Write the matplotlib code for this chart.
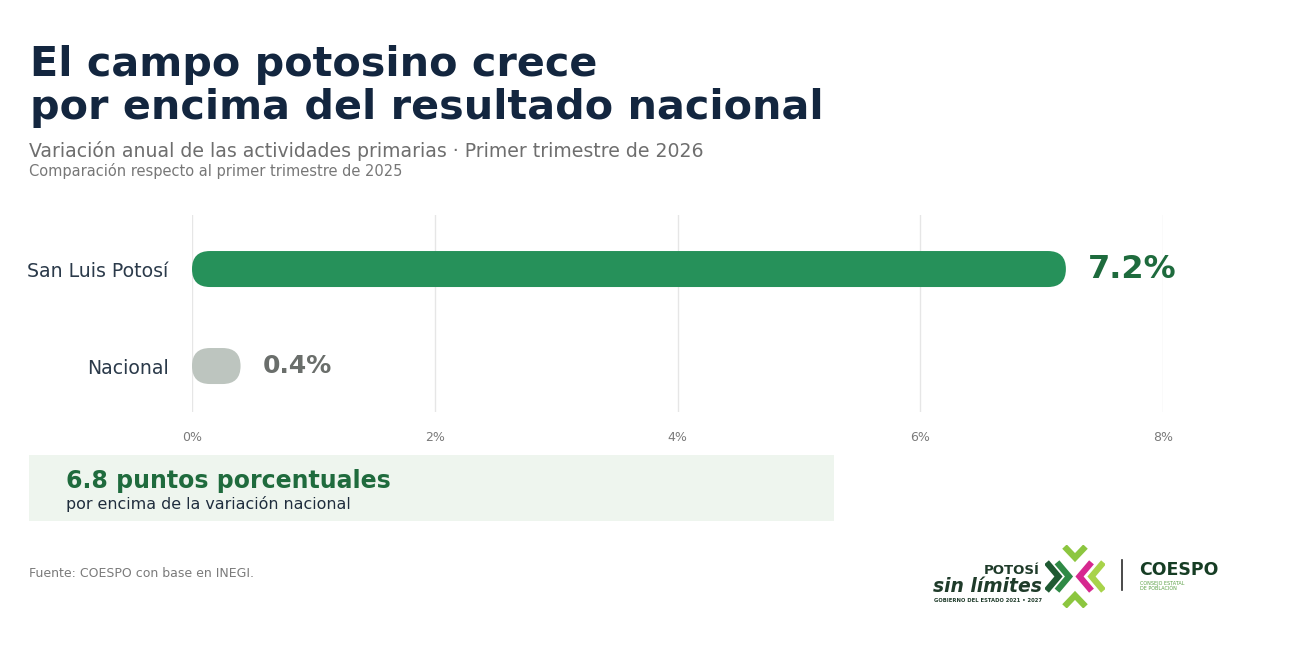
import numpy as np
import matplotlib
matplotlib.use("Agg")
from matplotlib import pyplot as plt
from matplotlib.patches import FancyBboxPatch, Rectangle

# datos
regiones = ["San Luis Potosí", "Nacional"]
variacion = [7.2, 0.4]
colores = ["#26915a", "#bdc5bf"]
colores_txt = ["#1e6b3d", "#6a6e6b"]
tamanos_txt = [23, 18]
x_ticks = [0, 2, 4, 6, 8]
diferencia = variacion[0] - variacion[1]

W, H = 1300, 645
plt.rcParams['font.family'] = ['DejaVu Sans']

fig = plt.figure(figsize=(W / 100, H / 100), dpi=100)
fig.patch.set_facecolor("white")


def px(x, y):
    # pixeles -> fraccion de figura
    return x / W, 1 - y / H


# ejes del grafico de barras
ax_l, ax_r, ax_t, ax_b = 192, 1163, 215, 412
ax = fig.add_axes([ax_l / W, 1 - ax_b / H, (ax_r - ax_l) / W, (ax_b - ax_t) / H])
ymin, ymax = -0.557, 1.474
ax.set_xlim(0, 8)
ax.set_ylim(ymax, ymin)

# relacion de aspecto para las esquinas redondeadas
px_x = (ax_r - ax_l) / 8.0
px_y = (ax_b - ax_t) / (ymax - ymin)
aspecto = px_x / px_y
alto = 36 / px_y
radio = (alto / aspecto) / 2

y = np.arange(len(regiones))
for i, (reg, val) in enumerate(zip(regiones, variacion)):
    barra = FancyBboxPatch((0, y[i] - alto / 2), val, alto,
                           boxstyle=f"round,pad=0,rounding_size={radio}",
                           mutation_aspect=aspecto,
                           facecolor=colores[i], edgecolor="none", zorder=3)
    ax.add_patch(barra)
    ax.annotate(f"{val:.1f}%", xy=(val, y[i]), xytext=(16, 0),
                textcoords="offset points", ha="left", va="center",
                fontsize=tamanos_txt[i], fontweight="bold",
                color=colores_txt[i], annotation_clip=False)

ax.set_yticks(y)
ax.set_yticklabels(regiones, fontsize=13.6, color="#2b3a4a")
ax.set_xticks(x_ticks)
ax.set_xticklabels([f"{t}%" for t in x_ticks], fontsize=9, color="#7a7a7a")
ax.tick_params(axis="y", length=0, pad=17)
ax.tick_params(axis="x", length=0, pad=14)
ax.grid(axis="x", color="#e6e6e6", linewidth=1, zorder=0)
ax.set_axisbelow(True)
for s in ax.spines.values():
    s.set_visible(False)

# titulos
navy = "#13263f"
fig.text(*px(30, 76), "El campo potosino crece", fontsize=29.8,
         fontweight="bold", color=navy, va="baseline")
fig.text(*px(30, 119), "por encima del resultado nacional", fontsize=29.8,
         fontweight="bold", color=navy, va="baseline")
fig.text(*px(29, 157), "Variación anual de las actividades primarias · Primer trimestre de 2026",
         fontsize=13.6, color="#6e6e6e", va="baseline")
fig.text(*px(29, 176), "Comparación respecto al primer trimestre de 2025",
         fontsize=10.5, color="#777777", va="baseline")

# recuadro de diferencia
x0, y0 = px(29, 521)
x1, y1 = px(834, 455)
fig.patches.append(Rectangle((x0, y0), x1 - x0, y1 - y0, transform=fig.transFigure,
                             facecolor="#eef5ee", edgecolor="none", zorder=0))
fig.text(*px(66, 488), f"{diferencia:.1f} puntos porcentuales", fontsize=17,
         fontweight="bold", color="#1f6b3d", va="baseline")
fig.text(*px(66, 509), "por encima de la variación nacional", fontsize=11.4,
         color="#1f2d3d", va="baseline")

# fuente
fig.text(*px(29, 577), "Fuente: COESPO con base en INEGI.", fontsize=9,
         color="#7a7a7a", va="baseline")

# logotipos
fig.text(*px(1040, 574), "POTOSÍ", fontsize=9.5, fontweight="bold",
         color="#1f3b2a", ha="right", va="baseline")
fig.text(*px(1042, 592), "sin límites", fontsize=13.5, fontweight="bold",
         fontstyle="italic", color="#1f3b2a", ha="right", va="baseline")
fig.text(*px(1042, 602), "GOBIERNO DEL ESTADO 2021 • 2027", fontsize=3.8,
         fontweight="bold", color="#1f3b2a", ha="right", va="baseline")

lx0, ly0 = px(1045, 608)
lx1, ly1 = px(1105, 545)
lg = fig.add_axes([lx0, ly0, lx1 - lx0, ly1 - ly0])
lg.set_xlim(-1, 1)
lg.set_ylim(-1, 1)
lg.axis("off")
kw = dict(linewidth=4.5, solid_capstyle="butt", solid_joinstyle="miter")
lg.plot([-0.95, -0.55, -0.95], [0.45, 0.0, -0.45], color="#1f5a32", **kw)
lg.plot([-0.6, -0.2, -0.6], [0.45, 0.0, -0.45], color="#2f8a45", **kw)
lg.plot([-0.35, 0.0, 0.35], [0.95, 0.6, 0.95], color="#8cc63f", **kw)
lg.plot([-0.35, 0.0, 0.35], [-0.95, -0.6, -0.95], color="#8cc63f", **kw)
lg.plot([0.55, 0.15, 0.55], [0.45, 0.0, -0.45], color="#d6288f", **kw)
lg.plot([0.95, 0.55, 0.95], [0.45, 0.0, -0.45], color="#a8d34a", **kw)

fig.add_artist(plt.Line2D([1122 / W, 1122 / W], [1 - 590 / H, 1 - 560 / H],
                          color="#2a2a2a", linewidth=1.2))
fig.text(*px(1139, 575), "COESPO", fontsize=12.5, fontweight="bold",
         color="#163d24", va="baseline")
fig.text(*px(1140, 585), "CONSEJO ESTATAL", fontsize=3.5,
         color="#5aa045", va="baseline")
fig.text(*px(1140, 590), "DE POBLACIÓN", fontsize=3.5,
         color="#5aa045", va="baseline")

plt.savefig("out.png", dpi=100, facecolor="white")
